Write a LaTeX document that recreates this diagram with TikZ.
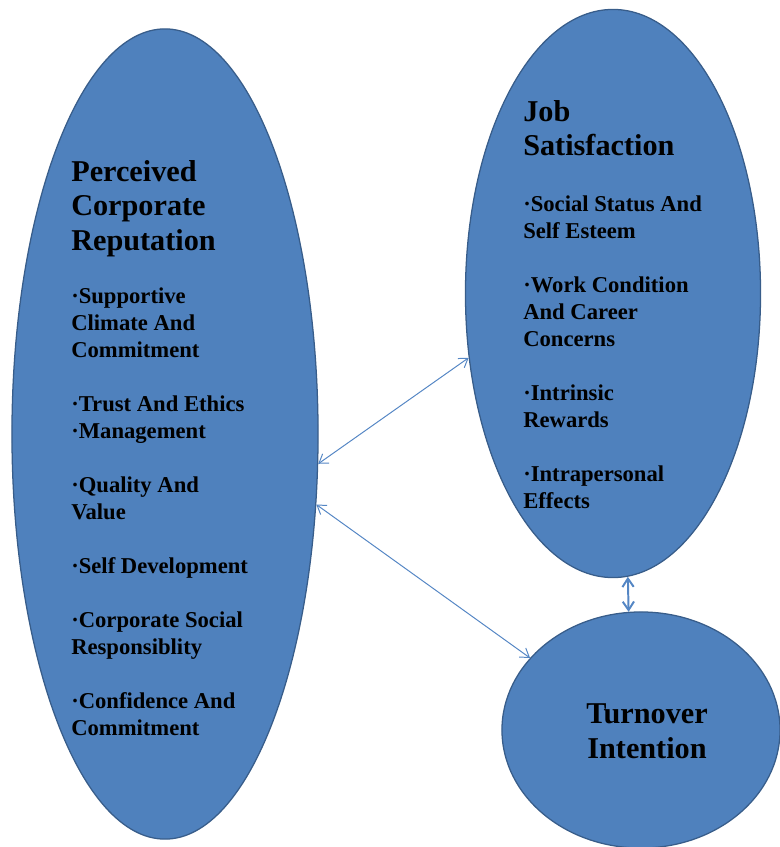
\documentclass[tikz,border=0pt]{standalone}
\usepackage{fontspec}
\setmainfont{Liberation Serif}
\definecolor{bleufond}{RGB}{79,129,189}
\definecolor{bleubord}{RGB}{56,93,138}
\definecolor{bleufleche}{RGB}{84,134,196}
\usetikzlibrary{arrows.meta,shapes.geometric}

\begin{document}
\begin{tikzpicture}[x=0.025cm,y=-0.025cm,
	bulle/.style={ellipse,draw=bleubord,fill=bleufond,line width=0.9pt,inner sep=0pt},
	titre/.style={anchor=base west,align=left,inner sep=0pt,
		font=\fontsize{21.5}{24.5}\selectfont\bfseries},
	liste/.style={anchor=base west,align=left,inner sep=0pt,
		font=\fontsize{16.1}{19.2}\selectfont\bfseries},
	lien/.style={{Straight Barb[length=6pt,width=8pt]}-{Straight Barb[length=6pt,width=8pt]},
		bleufleche,line width=0.7pt}]
	\useasboundingbox (0,0) rectangle (779,847);
	% the three constructs
	\node[bulle,minimum width=7.65cm,minimum height=20.25cm](pcr) at (165,434){};
	\node[bulle,minimum width=7.375cm,minimum height=14.2cm](js) at (613,293.5){};
	\node[bulle,minimum width=6.95cm,minimum height=5.9cm](ti) at (641,730){};
	% links between them
	\draw[lien](pcr.-11)--(js.204);
	\draw[lien](pcr.-25)--(ti.147);
	\draw[lien,line width=1.4pt](js.-87)--(ti.96);
	% perceived corporate reputation (placed by the baseline of the last line)
	\node[titre](pcrt) at (71,250){Perceived\\Corporate\\Reputation};
	\node[liste](pcrl) at (71,735){·Supportive\\Climate And\\Commitment\\[19.2pt]
		·Trust And Ethics\\·Management\\[19.2pt]
		·Quality And\\Value\\[19.2pt]
		·Self Development\\[19.2pt]
		·Corporate Social\\Responsiblity\\[19.2pt]
		·Confidence And\\Commitment};
	% job satisfaction
	\node[titre](jst) at (523,156){Job\\Satisfaction};
	\node[liste](jsl) at (523,508){·Social Status And\\Self Esteem\\[19.2pt]
		·Work Condition\\And Career\\Concerns\\[19.2pt]
		·Intrinsic\\Rewards\\[19.2pt]
		·Intrapersonal\\Effects};
	% turnover intention
	\node[titre,anchor=base,align=center](tit) at (647,758){Turnover\\Intention};
\end{tikzpicture}
\end{document}
